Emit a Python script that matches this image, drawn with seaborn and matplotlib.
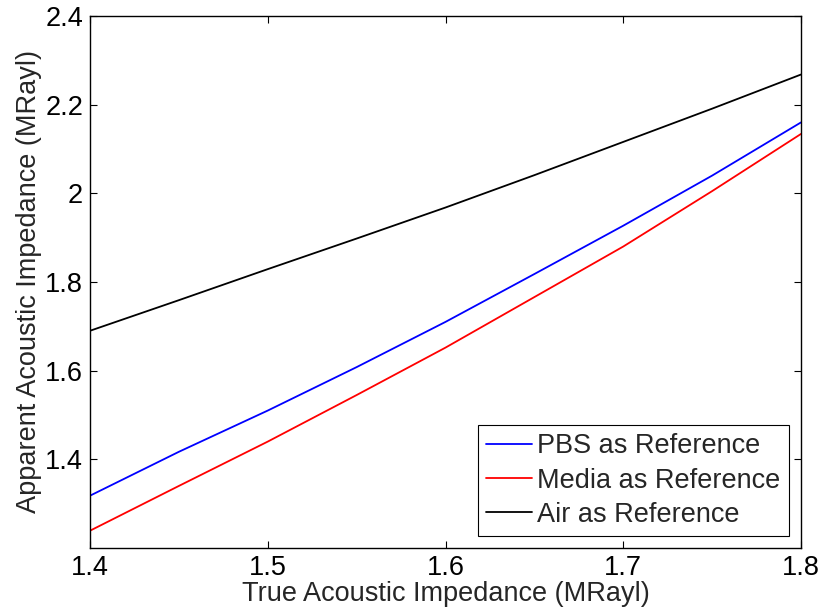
import matplotlib
matplotlib.use("Agg")
import matplotlib.pyplot as plt
import seaborn as sns
import pandas as pd

true_z = [1.40, 1.45, 1.50, 1.55, 1.60, 1.65, 1.70, 1.75, 1.80]
pbs_ref = [1.318, 1.417, 1.510, 1.608, 1.710, 1.818, 1.927, 2.040, 2.160]
media_ref = [1.239, 1.340, 1.440, 1.545, 1.652, 1.766, 1.880, 2.005, 2.134]
air_ref = [1.690, 1.759, 1.829, 1.898, 1.968, 2.041, 2.116, 2.191, 2.268]
series_names = ["PBS as Reference", "Media as Reference", "Air as Reference"]
colors = ["#0000ff", "#ff0000", "#000000"]
x_ticks = [1.4, 1.5, 1.6, 1.7, 1.8]
y_ticks = [1.4, 1.6, 1.8, 2.0, 2.2, 2.4]
y_tick_labels = ["1.4", "1.6", "1.8", "2", "2.2", "2.4"]

rows = []
for name, vals in zip(series_names, [pbs_ref, media_ref, air_ref]):
    for x, y in zip(true_z, vals):
        rows.append({"x": x, "y": y, "series": name})
df = pd.DataFrame(rows)

sns.set_style("white")
plt.rcParams["font.family"] = ["Liberation Sans", "DejaVu Sans"]

FS = 19.5
fig = plt.figure(figsize=(8.23, 6.14), dpi=100)
ax = fig.add_axes([90/823, 1-548/614, (801-90)/823, (548-16)/614])

sns.lineplot(data=df, x="x", y="y", hue="series", hue_order=series_names,
             palette=colors, linewidth=1.3, ax=ax, sort=True, estimator=None)

ax.set_xlim(1.4, 1.8)
ax.set_ylim(1.2, 2.4)
ax.set_xticks(x_ticks)
ax.set_xticklabels([str(t) for t in x_ticks])
ax.set_yticks(y_ticks)
ax.set_yticklabels(y_tick_labels)
ax.tick_params(direction="in", length=5, width=0.8, labelsize=FS, colors="black",
               top=True, right=True, bottom=True, left=True, pad=5)
for s in ax.spines.values():
    s.set_color("black")
    s.set_linewidth(1.0)

ax.set_xlabel("True Acoustic Impedance (MRayl)", fontsize=FS, labelpad=0)
ax.set_ylabel("Apparent Acoustic Impedance (MRayl)", fontsize=FS, labelpad=2)

leg = ax.legend(loc="lower right", fontsize=FS, frameon=True, fancybox=False,
                handlelength=1.7, handletextpad=0.2, borderpad=0.3,
                labelspacing=0.3, borderaxespad=0.45)
leg.get_frame().set_edgecolor("black")
leg.get_frame().set_linewidth(0.8)
leg.get_frame().set_alpha(1)
leg.set_title(None)

fig.savefig("out.png", dpi=100)
